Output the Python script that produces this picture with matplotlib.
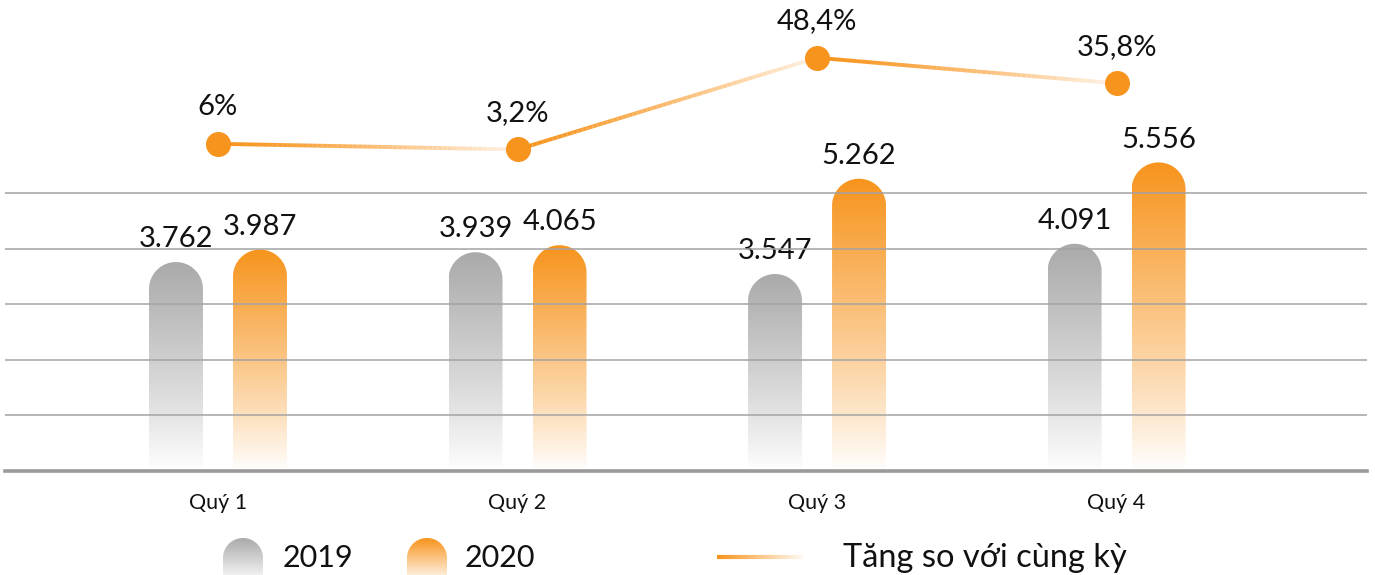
import numpy as np
import matplotlib.pyplot as plt
from matplotlib.path import Path
from matplotlib.patches import PathPatch
from matplotlib.collections import LineCollection
from matplotlib.colors import LinearSegmentedColormap, to_rgb

# Du lieu
quy = ["Quý 1", "Quý 2", "Quý 3", "Quý 4"]
nam_2019 = [3762, 3939, 3547, 4091]
nam_2020 = [3987, 4065, 5262, 5556]
tang_truong = [6.0, 3.2, 48.4, 35.8]
nhan_2019 = ["3.762", "3.939", "3.547", "4.091"]
nhan_2020 = ["3.987", "4.065", "5.262", "5.556"]
nhan_tang = ["6%", "3,2%", "48,4%", "35,8%"]

XAM = "#a9aaa9"
CAM = "#f7941d"
CHU = "#111111"
FONT = ["Lato", "DejaVu Sans"]
plt.rcParams["font.family"] = FONT

W, H = 1375, 575
fig = plt.figure(figsize=(W / 100, H / 100), dpi=100)
ax = fig.add_axes([5 / W, 104 / H, 1362 / W, 471 / H])
ax2 = ax.twinx()

xlim = (-0.711, 3.836)
ylim = (0, 8480)
ax.set_xlim(*xlim)
ax.set_ylim(*ylim)
ax2.set_ylim(-155.2, 76.85)

# kich thuoc 1 pixel theo don vi du lieu
px_x = (xlim[1] - xlim[0]) / 1362
px_y = (ylim[1] - ylim[0]) / 471

bar_w = 54 * px_x
lech = 42 * px_x


def cot_bo_tron(ax, xc, h, mau, w=bar_w):
    rx = w / 2
    ry = 27 * px_y
    t = np.linspace(np.pi, 0, 40)
    verts = [(xc - rx, 0), (xc - rx, h - ry)]
    verts += [(xc + rx * np.cos(a), h - ry + ry * np.sin(a)) for a in t]
    verts += [(xc + rx, 0), (xc - rx, 0)]
    codes = [Path.MOVETO] + [Path.LINETO] * (len(verts) - 2) + [Path.CLOSEPOLY]
    patch = PathPatch(Path(verts, codes), facecolor="none", edgecolor="none")
    ax.add_patch(patch)
    cmap = LinearSegmentedColormap.from_list("g", [(1, 1, 1), to_rgb(mau)])
    grad = np.linspace(0, 1, 256).reshape(-1, 1) ** 0.9
    im = ax.imshow(grad, cmap=cmap, origin="lower", aspect="auto",
                   extent=(xc - rx, xc + rx, 0, h), zorder=2, vmin=0, vmax=1)
    im.set_clip_path(patch)


x = np.arange(len(quy))
for i in range(len(quy)):
    cot_bo_tron(ax, x[i] - lech, nam_2019[i], XAM)
    cot_bo_tron(ax, x[i] + lech, nam_2020[i], CAM)
    ax.annotate(nhan_2019[i], (x[i] - lech, nam_2019[i]), xytext=(0, 7),
                textcoords="offset points", ha="center", va="bottom",
                fontsize=21, color=CHU)
    ax.annotate(nhan_2020[i], (x[i] + lech, nam_2020[i]), xytext=(0, 7),
                textcoords="offset points", ha="center", va="bottom",
                fontsize=21, color=CHU)

ax.set_xlim(*xlim)
ax.set_ylim(*ylim)

# luoi ngang
for v in range(1000, 6000, 1000):
    ax.axhline(v, color="#a3a3a3", lw=1.1, zorder=3)
ax.axhline(0, color="#9a9a9a", lw=2.6, zorder=3, clip_on=False)

# duong tang truong voi mau chuyen
c0 = np.array(to_rgb(CAM))
c1 = np.array([1.0, 0.95, 0.9])
for i in range(len(quy) - 1):
    n = 60
    xs = np.linspace(x[i], x[i + 1], n + 1)
    ys = np.linspace(tang_truong[i], tang_truong[i + 1], n + 1)
    segs = [[(xs[k], ys[k]), (xs[k + 1], ys[k + 1])] for k in range(n)]
    tt = np.linspace(0, 1, n)[:, None] ** 1.3
    cols = c0 * (1 - tt) + c1 * tt
    ax2.add_collection(LineCollection(segs, colors=cols, linewidths=2.8,
                                      capstyle="butt", zorder=4))
ax2.plot(x, tang_truong, "o", color=CAM, markersize=17, zorder=5)
for i in range(len(quy)):
    ax2.annotate(nhan_tang[i], (x[i], tang_truong[i]), xytext=(0, 17),
                 textcoords="offset points", ha="center", va="bottom",
                 fontsize=21, color=CHU)

ax.set_xticks(x)
ax.set_xticklabels(quy, fontsize=15.5, color=CHU)
ax.tick_params(axis="x", length=0, pad=16)
ax.set_yticks([])
ax2.set_yticks([])
for a in (ax, ax2):
    for s in a.spines.values():
        s.set_visible(False)

# chu thich
lg = fig.add_axes([0, 0, 1, 1], facecolor="none")
lg.set_xlim(0, W)
lg.set_ylim(H, 0)
lg.axis("off")


def o_mau(x0, mau):
    w = 40
    top = 538
    t = np.linspace(np.pi, 0, 40)
    r = w / 2
    verts = [(x0, H + 2), (x0, top + r)]
    verts += [(x0 + r + r * np.cos(a), top + r - r * np.sin(a)) for a in t]
    verts += [(x0 + w, H + 2), (x0, H + 2)]
    codes = [Path.MOVETO] + [Path.LINETO] * (len(verts) - 2) + [Path.CLOSEPOLY]
    patch = PathPatch(Path(verts, codes), facecolor="none", edgecolor="none")
    lg.add_patch(patch)
    cmap = LinearSegmentedColormap.from_list("g", [to_rgb(mau), (1, 1, 1)])
    grad = np.linspace(0, 1, 128).reshape(-1, 1)
    im = lg.imshow(grad, cmap=cmap, aspect="auto", extent=(x0, x0 + w, H + 2, top),
                   vmin=0, vmax=1.15)
    im.set_clip_path(patch)


o_mau(223, XAM)
o_mau(407, CAM)
lg.text(283, 558, "2019", fontsize=22, va="center", color=CHU)
lg.text(465, 558, "2020", fontsize=22, va="center", color=CHU)

n = 50
xs = np.linspace(717, 803, n + 1)
segs = [[(xs[k], 557), (xs[k + 1], 557)] for k in range(n)]
tt = np.linspace(0, 1, n)[:, None]
lg.add_collection(LineCollection(segs, colors=c0 * (1 - tt) + np.array([1, 0.97, 0.94]) * tt,
                                 linewidths=3, capstyle="butt"))
lg.text(843, 558, "Tăng so với cùng kỳ", fontsize=23.5, va="center", color=CHU)
lg.set_xlim(0, W)
lg.set_ylim(H, 0)

fig.savefig("out.png", dpi=100)
